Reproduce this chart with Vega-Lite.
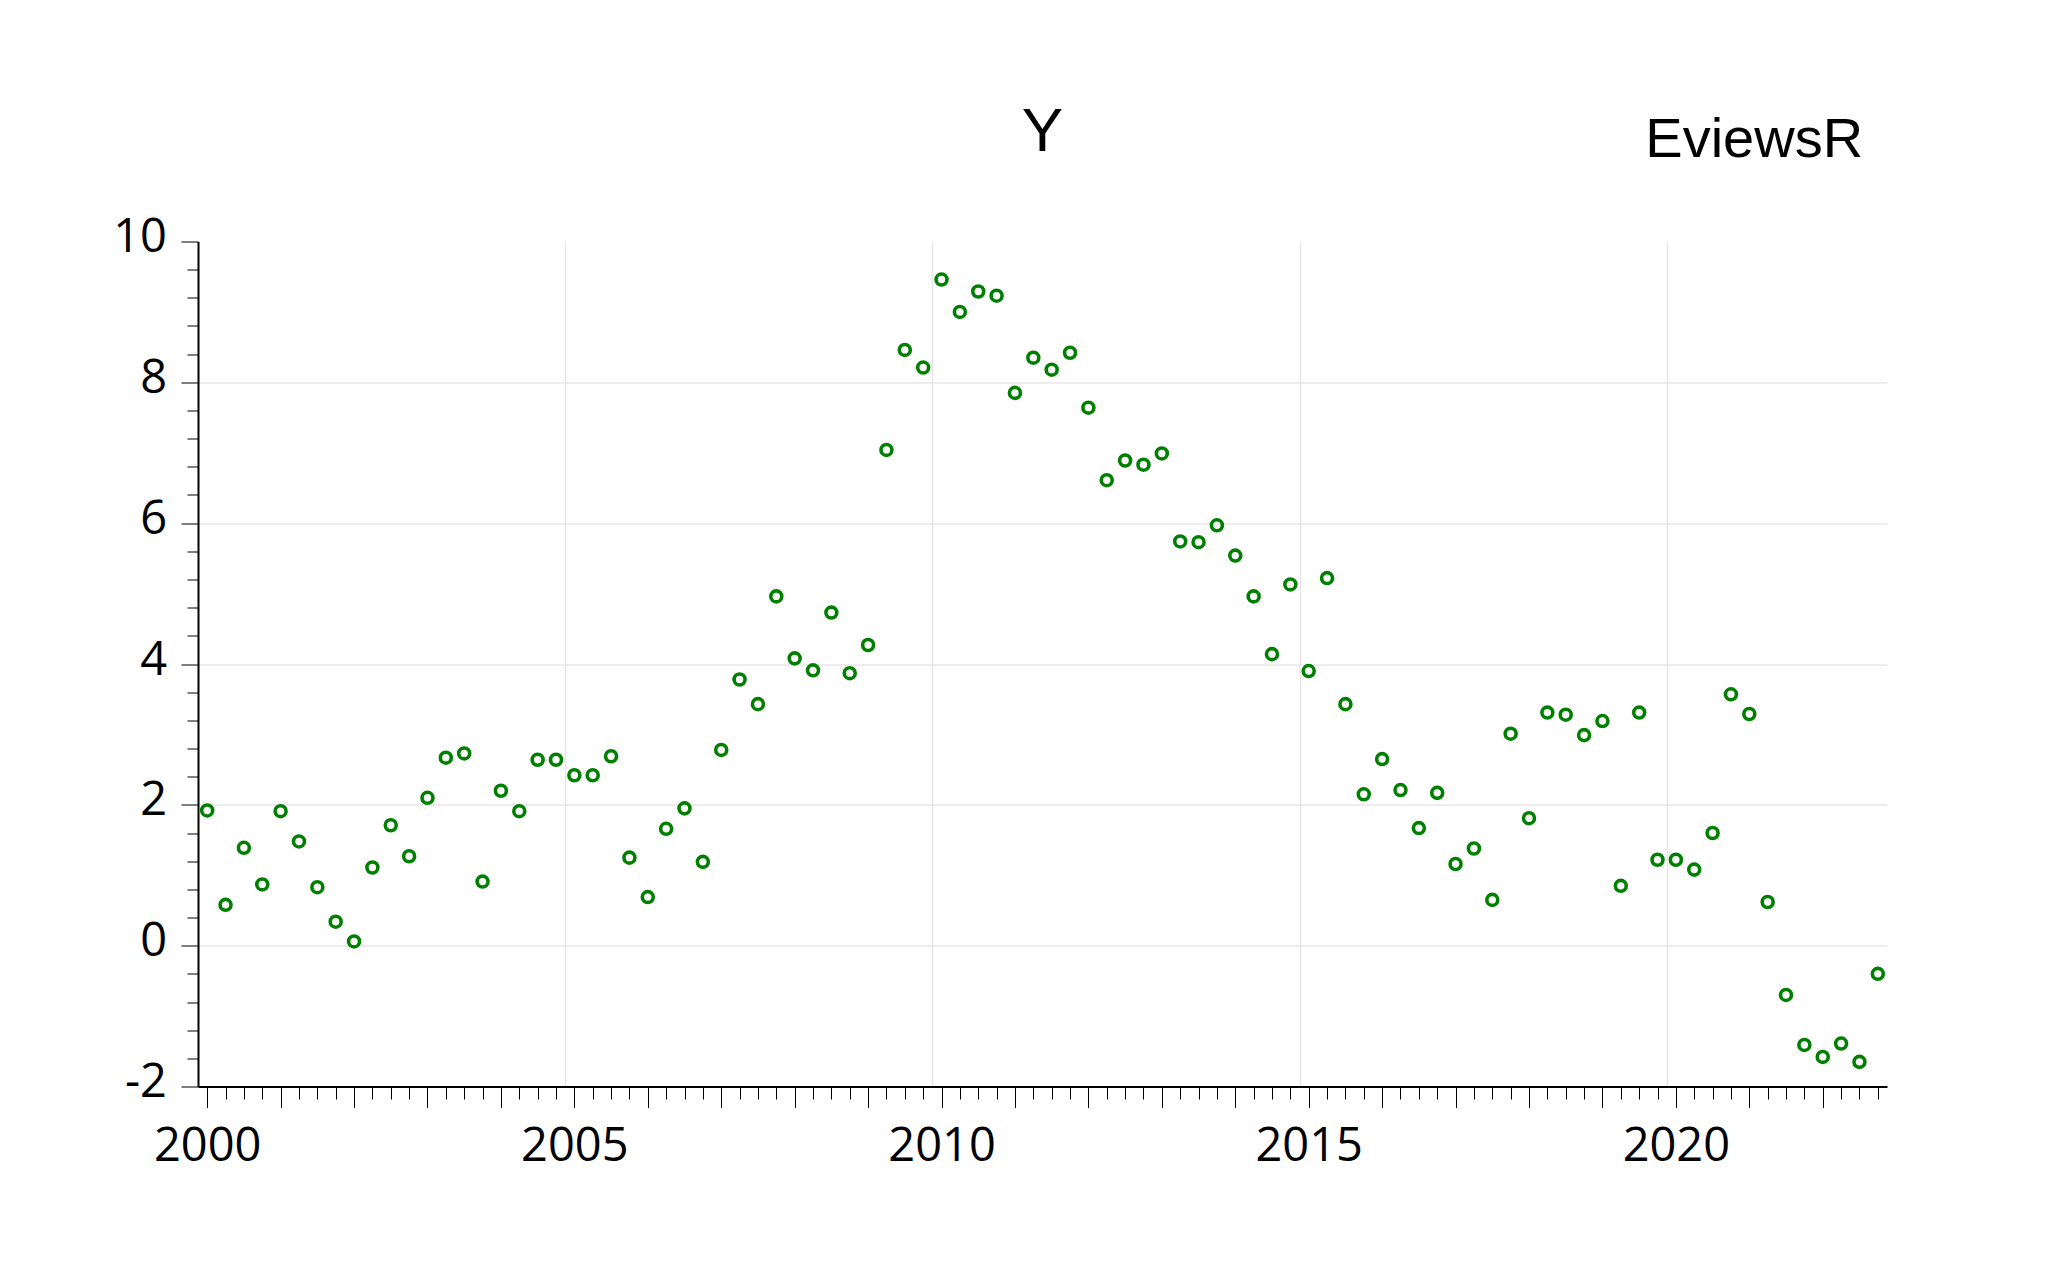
{
  "$schema": "https://vega.github.io/schema/vega-lite/v6.json",
  "autosize": {"type": "none"},
  "padding": {"left": 198, "top": 241.5, "right": 160, "bottom": 191.5},
  "width": 1689,
  "height": 845,
  "background": "white",
  "config": {"view": {"stroke": null}},
  "datasets": {
    "series": [
      {"period": "2000Q1", "t": 2000.0, "y": 1.92}, {"period": "2000Q2", "t": 2000.25, "y": 0.58}, {"period": "2000Q3", "t": 2000.5, "y": 1.39}, {"period": "2000Q4", "t": 2000.75, "y": 0.87},
      {"period": "2001Q1", "t": 2001.0, "y": 1.91}, {"period": "2001Q2", "t": 2001.25, "y": 1.48}, {"period": "2001Q3", "t": 2001.5, "y": 0.83}, {"period": "2001Q4", "t": 2001.75, "y": 0.34},
      {"period": "2002Q1", "t": 2002.0, "y": 0.06}, {"period": "2002Q2", "t": 2002.25, "y": 1.11}, {"period": "2002Q3", "t": 2002.5, "y": 1.71}, {"period": "2002Q4", "t": 2002.75, "y": 1.27},
      {"period": "2003Q1", "t": 2003.0, "y": 2.10}, {"period": "2003Q2", "t": 2003.25, "y": 2.67}, {"period": "2003Q3", "t": 2003.5, "y": 2.73}, {"period": "2003Q4", "t": 2003.75, "y": 0.91},
      {"period": "2004Q1", "t": 2004.0, "y": 2.20}, {"period": "2004Q2", "t": 2004.25, "y": 1.91}, {"period": "2004Q3", "t": 2004.5, "y": 2.64}, {"period": "2004Q4", "t": 2004.75, "y": 2.64},
      {"period": "2005Q1", "t": 2005.0, "y": 2.42}, {"period": "2005Q2", "t": 2005.25, "y": 2.42}, {"period": "2005Q3", "t": 2005.5, "y": 2.69}, {"period": "2005Q4", "t": 2005.75, "y": 1.25},
      {"period": "2006Q1", "t": 2006.0, "y": 0.69}, {"period": "2006Q2", "t": 2006.25, "y": 1.66}, {"period": "2006Q3", "t": 2006.5, "y": 1.95}, {"period": "2006Q4", "t": 2006.75, "y": 1.19},
      {"period": "2007Q1", "t": 2007.0, "y": 2.78}, {"period": "2007Q2", "t": 2007.25, "y": 3.78}, {"period": "2007Q3", "t": 2007.5, "y": 3.43}, {"period": "2007Q4", "t": 2007.75, "y": 4.96},
      {"period": "2008Q1", "t": 2008.0, "y": 4.08}, {"period": "2008Q2", "t": 2008.25, "y": 3.91}, {"period": "2008Q3", "t": 2008.5, "y": 4.73}, {"period": "2008Q4", "t": 2008.75, "y": 3.87},
      {"period": "2009Q1", "t": 2009.0, "y": 4.27}, {"period": "2009Q2", "t": 2009.25, "y": 7.04}, {"period": "2009Q3", "t": 2009.5, "y": 8.46}, {"period": "2009Q4", "t": 2009.75, "y": 8.21},
      {"period": "2010Q1", "t": 2010.0, "y": 9.46}, {"period": "2010Q2", "t": 2010.25, "y": 9.00}, {"period": "2010Q3", "t": 2010.5, "y": 9.29}, {"period": "2010Q4", "t": 2010.75, "y": 9.23},
      {"period": "2011Q1", "t": 2011.0, "y": 7.85}, {"period": "2011Q2", "t": 2011.25, "y": 8.35}, {"period": "2011Q3", "t": 2011.5, "y": 8.18}, {"period": "2011Q4", "t": 2011.75, "y": 8.42},
      {"period": "2012Q1", "t": 2012.0, "y": 7.64}, {"period": "2012Q2", "t": 2012.25, "y": 6.61}, {"period": "2012Q3", "t": 2012.5, "y": 6.89}, {"period": "2012Q4", "t": 2012.75, "y": 6.83},
      {"period": "2013Q1", "t": 2013.0, "y": 6.99}, {"period": "2013Q2", "t": 2013.25, "y": 5.74}, {"period": "2013Q3", "t": 2013.5, "y": 5.73}, {"period": "2013Q4", "t": 2013.75, "y": 5.97},
      {"period": "2014Q1", "t": 2014.0, "y": 5.54}, {"period": "2014Q2", "t": 2014.25, "y": 4.96}, {"period": "2014Q3", "t": 2014.5, "y": 4.14}, {"period": "2014Q4", "t": 2014.75, "y": 5.13},
      {"period": "2015Q1", "t": 2015.0, "y": 3.90}, {"period": "2015Q2", "t": 2015.25, "y": 5.22}, {"period": "2015Q3", "t": 2015.5, "y": 3.43}, {"period": "2015Q4", "t": 2015.75, "y": 2.15},
      {"period": "2016Q1", "t": 2016.0, "y": 2.65}, {"period": "2016Q2", "t": 2016.25, "y": 2.21}, {"period": "2016Q3", "t": 2016.5, "y": 1.67}, {"period": "2016Q4", "t": 2016.75, "y": 2.17},
      {"period": "2017Q1", "t": 2017.0, "y": 1.16}, {"period": "2017Q2", "t": 2017.25, "y": 1.38}, {"period": "2017Q3", "t": 2017.5, "y": 0.65}, {"period": "2017Q4", "t": 2017.75, "y": 3.01},
      {"period": "2018Q1", "t": 2018.0, "y": 1.81}, {"period": "2018Q2", "t": 2018.25, "y": 3.31}, {"period": "2018Q3", "t": 2018.5, "y": 3.28}, {"period": "2018Q4", "t": 2018.75, "y": 2.99},
      {"period": "2019Q1", "t": 2019.0, "y": 3.19}, {"period": "2019Q2", "t": 2019.25, "y": 0.85}, {"period": "2019Q3", "t": 2019.5, "y": 3.31}, {"period": "2019Q4", "t": 2019.75, "y": 1.22},
      {"period": "2020Q1", "t": 2020.0, "y": 1.22}, {"period": "2020Q2", "t": 2020.25, "y": 1.08}, {"period": "2020Q3", "t": 2020.5, "y": 1.60}, {"period": "2020Q4", "t": 2020.75, "y": 3.57},
      {"period": "2021Q1", "t": 2021.0, "y": 3.29}, {"period": "2021Q2", "t": 2021.25, "y": 0.62}, {"period": "2021Q3", "t": 2021.5, "y": -0.70}, {"period": "2021Q4", "t": 2021.75, "y": -1.41},
      {"period": "2022Q1", "t": 2022.0, "y": -1.58}, {"period": "2022Q2", "t": 2022.25, "y": -1.39}, {"period": "2022Q3", "t": 2022.5, "y": -1.65}, {"period": "2022Q4", "t": 2022.75, "y": -0.40}
    ],
    "heading": [{"label": "Y"}],
    "note": [{"label": "EviewsR"}]
  },
  "layer": [
    {
      "data": {"name": "series"},
      "mark": {"type": "point", "shape": "circle", "filled": false, "stroke": "#008000", "strokeWidth": 3.6, "size": 120, "opacity": 1},
      "encoding": {
        "x": {
          "field": "t", "type": "quantitative",
          "scale": {"domain": [1999.875, 2022.875], "nice": false, "zero": false},
          "axis": {
            "orient": "bottom", "title": null, "tickCount": 1000,
            "values": [2000, 2000.25, 2000.5, 2000.75, 2001, 2001.25, 2001.5, 2001.75, 2002, 2002.25, 2002.5, 2002.75, 2003, 2003.25, 2003.5, 2003.75, 2004, 2004.25, 2004.5, 2004.75, 2004.875, 2005, 2005.25, 2005.5, 2005.75, 2006, 2006.25, 2006.5, 2006.75, 2007, 2007.25, 2007.5, 2007.75, 2008, 2008.25, 2008.5, 2008.75, 2009, 2009.25, 2009.5, 2009.75, 2009.875, 2010, 2010.25, 2010.5, 2010.75, 2011, 2011.25, 2011.5, 2011.75, 2012, 2012.25, 2012.5, 2012.75, 2013, 2013.25, 2013.5, 2013.75, 2014, 2014.25, 2014.5, 2014.75, 2014.875, 2015, 2015.25, 2015.5, 2015.75, 2016, 2016.25, 2016.5, 2016.75, 2017, 2017.25, 2017.5, 2017.75, 2018, 2018.25, 2018.5, 2018.75, 2019, 2019.25, 2019.5, 2019.75, 2019.875, 2020, 2020.25, 2020.5, 2020.75, 2021, 2021.25, 2021.5, 2021.75, 2022, 2022.25, 2022.5, 2022.75],
            "labelExpr": "datum.value % 5 === 0 ? '' + datum.value : ''",
            "labelOverlap": false, "labelFlush": false,
            "labelFont": "Open Sans", "labelFontSize": 47, "labelColor": "black",
            "labelBaseline": "top", "labelAlign": "center", "labelPadding": 15.7,
            "domain": true, "domainColor": "black", "domainWidth": 2,
            "ticks": true, "tickColor": "black", "tickWidth": 1,
            "tickSize": {"condition": {"test": "datum.value % 1 === 0", "value": 21}, "value": 12.5},
            "tickOpacity": {"condition": {"test": "datum.value % 1 === 0.875", "value": 0}, "value": 1},
            "grid": true, "gridColor": "#e6e6e6", "gridWidth": 1.5,
            "gridOpacity": {"condition": {"test": "datum.value % 1 === 0.875", "value": 1}, "value": 0}
          }
        },
        "y": {
          "field": "y", "type": "quantitative",
          "scale": {"domain": [-2, 10], "nice": false, "zero": false},
          "axis": {
            "orient": "left", "title": null, "tickCount": 1000,
            "values": [-2, -1.6, -1.2, -0.8, -0.4, 0, 0.4, 0.8, 1.2, 1.6, 2, 2.4, 2.8, 3.2, 3.6, 4, 4.4, 4.8, 5.2, 5.6, 6, 6.4, 6.8, 7.2, 7.6, 8, 8.4, 8.8, 9.2, 9.6, 10],
            "labelExpr": "datum.value % 2 === 0 ? '' + datum.value : ''",
            "labelOverlap": false, "labelFlush": false,
            "labelFont": "Open Sans", "labelFontSize": 47, "labelColor": "black",
            "labelBaseline": "alphabetic", "labelAlign": "right", "labelPadding": 14.5, "labelOffset": 10,
            "domain": true, "domainColor": "black", "domainWidth": 2,
            "ticks": true, "tickColor": "black", "tickWidth": 1,
            "tickSize": {"condition": {"test": "datum.value % 2 === 0", "value": 17}, "value": 11},
            "grid": true, "gridColor": "#e6e6e6", "gridWidth": 1.5,
            "gridOpacity": {"condition": {"test": "datum.value % 2 === 0 && datum.value > -2 && datum.value < 10", "value": 1}, "value": 0}
          }
        }
      }
    },
    {
      "data": {"name": "heading"},
      "mark": {"type": "text", "font": "Liberation Sans", "fontSize": 62, "color": "black", "align": "center", "baseline": "alphabetic"},
      "encoding": {
        "text": {"field": "label", "type": "nominal"},
        "x": {"datum": 2011.375, "type": "quantitative"},
        "y": {"datum": 11.285, "type": "quantitative"}
      }
    },
    {
      "data": {"name": "note"},
      "mark": {"type": "text", "font": "Liberation Sans", "fontSize": 56, "color": "black", "align": "right", "baseline": "alphabetic"},
      "encoding": {
        "text": {"field": "label", "type": "nominal"},
        "x": {"datum": 2022.55, "type": "quantitative"},
        "y": {"datum": 11.2, "type": "quantitative"}
      }
    }
  ]
}
